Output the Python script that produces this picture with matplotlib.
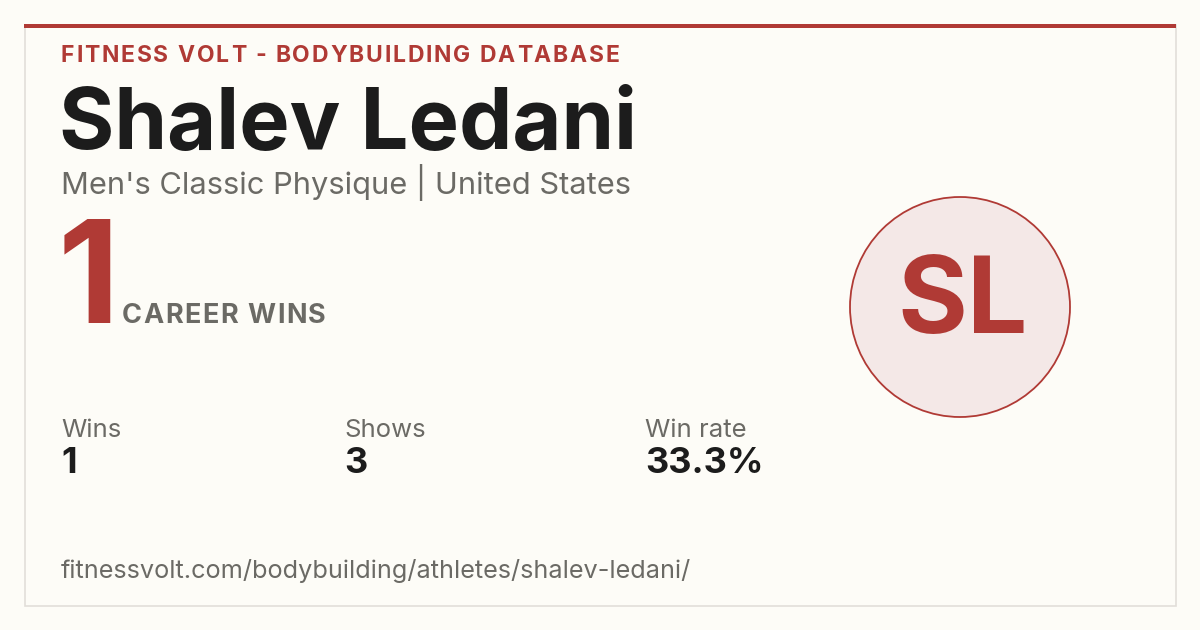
import matplotlib
matplotlib.use("Agg")
import matplotlib.pyplot as plt
from matplotlib.patches import Rectangle, Circle

# ---- data ----
site_label = "FITNESS VOLT - BODYBUILDING DATABASE"
athlete_name = "Shalev Ledani"
division = "Men's Classic Physique"
country = "United States"
career_wins = 1
stat_labels = ["Wins", "Shows", "Win rate"]
stat_values = ["1", "3", "33.3%"]
initials = "SL"
url = "fitnessvolt.com/bodybuilding/athletes/shalev-ledani/"

# ---- style ----
BG = "#FDFCF7"
RED = "#B03A35"
DARK = "#1C1C1C"
GRAY = "#6B6A65"
BORDER = "#E2DFD9"
CIRC_FILL = "#F4E8E7"
FONT = ["Inter", "DejaVu Sans"]

plt.rcParams["font.family"] = FONT

fig = plt.figure(figsize=(12, 6.3), dpi=100, facecolor=BG)
ax = fig.add_axes([0, 0, 1, 1])
ax.set_xlim(0, 1200)
ax.set_ylim(630, 0)
ax.axis("off")
ax.set_facecolor(BG)

# card
ax.add_patch(Rectangle((24.5, 24.5), 1151, 581, facecolor=BG, edgecolor=BORDER, lw=1.2, zorder=1))
ax.add_patch(Rectangle((24, 24), 1152, 4, facecolor=RED, edgecolor="none", zorder=2))

fig.canvas.draw()
renderer = fig.canvas.get_renderer()


def spaced_text(x, y, s, spacing, **kw):
    """Draw text with letter spacing (in pixels)."""
    for ch in s:
        t = ax.text(x, y, ch, **kw)
        bb = t.get_window_extent(renderer=renderer)
        if ch == " ":
            w = ax.text(0, 0, "a a", **kw)
            w2 = ax.text(0, 0, "aa", **kw)
            width = w.get_window_extent(renderer=renderer).width - w2.get_window_extent(renderer=renderer).width
            w.remove(); w2.remove()
        else:
            width = bb.width
        x += width + spacing


# header label
spaced_text(61, 62, site_label, 1.85, fontsize=16.5, fontweight="bold", color=RED, va="baseline", ha="left")

# name
ax.text(59, 149, athlete_name, fontsize=61, fontweight="bold", color=DARK, va="baseline", ha="left")

# subtitle
ax.text(61, 194, f"{division} | {country}", fontsize=22.2, color=GRAY, va="baseline", ha="left")

# big wins number
ax.text(58, 323, str(career_wins), fontsize=103, fontweight="bold", color=RED, va="baseline", ha="left")
spaced_text(122, 323, "CAREER WINS", 1.5, fontsize=19.5, fontweight="bold", color=GRAY, va="baseline", ha="left")

# stats
stat_x = [61, 344, 645]
for sx, lab, val in zip(stat_x, stat_labels, stat_values):
    ax.text(sx, 437, lab, fontsize=18.5, color=GRAY, va="baseline", ha="left")
    ax.text(sx, 473, val, fontsize=26, fontweight="bold", color=DARK, va="baseline", ha="left")

# url
ax.text(61, 578, url, fontsize=18.2, color=GRAY, va="baseline", ha="left")

# initials circle
ax.add_patch(Circle((960, 307), 110, facecolor=CIRC_FILL, edgecolor=RED, lw=1.3, zorder=3))
ax.text(963, 333, initials, fontsize=77, fontweight="bold", color=RED, va="baseline", ha="center", zorder=4)

fig.savefig("out.png", dpi=100, facecolor=BG)
